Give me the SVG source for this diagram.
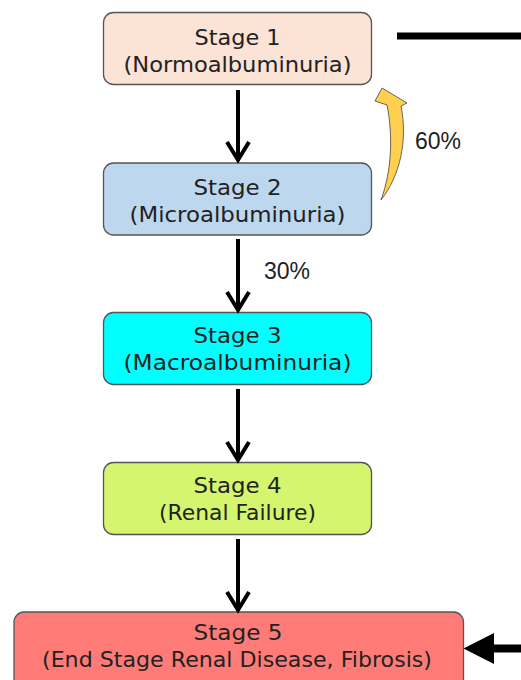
<svg xmlns="http://www.w3.org/2000/svg" width="521" height="680" viewBox="0 0 521 680">
  <style>
    .box { stroke: #555; stroke-width: 1.3; }
    .lbl { font-family: "DejaVu Sans", "Liberation Sans", sans-serif; font-size: 22px; fill: #222; text-anchor: middle; }
    .pct { font-family: "Liberation Sans", Arial, sans-serif; font-size: 23px; fill: #222; }
    .down { fill: none; stroke: #000; stroke-width: 4; stroke-linejoin: miter; }
  </style>
  <rect width="521" height="680" fill="#fff"/>

  <g id="stage1">
    <rect class="box" x="103.5" y="12.5" width="268" height="72" rx="10" fill="#FBE3D6"/>
    <text class="lbl" x="237.5" y="45" textLength="86" lengthAdjust="spacingAndGlyphs">Stage 1</text>
    <text class="lbl" x="237.5" y="72" textLength="228" lengthAdjust="spacingAndGlyphs">(Normoalbuminuria)</text>
  </g>
  <g id="stage2">
    <rect class="box" x="103.5" y="163" width="268" height="72" rx="10" fill="#BDD7EE"/>
    <text class="lbl" x="237.5" y="195" textLength="88" lengthAdjust="spacingAndGlyphs">Stage 2</text>
    <text class="lbl" x="237.5" y="222" textLength="216" lengthAdjust="spacingAndGlyphs">(Microalbuminuria)</text>
  </g>
  <g id="stage3">
    <rect class="box" x="103.5" y="312.5" width="268" height="72" rx="10" fill="#00FFFF"/>
    <text class="lbl" x="237.5" y="343" textLength="88" lengthAdjust="spacingAndGlyphs">Stage 3</text>
    <text class="lbl" x="237.5" y="370" textLength="228" lengthAdjust="spacingAndGlyphs">(Macroalbuminuria)</text>
  </g>
  <g id="stage4">
    <rect class="box" x="103.5" y="462.5" width="268" height="72" rx="10" fill="#D5F56F"/>
    <text class="lbl" x="237.5" y="493" textLength="88" lengthAdjust="spacingAndGlyphs">Stage 4</text>
    <text class="lbl" x="237.5" y="520" textLength="157" lengthAdjust="spacingAndGlyphs">(Renal Failure)</text>
  </g>
  <g id="stage5">
    <rect class="box" x="14" y="612" width="449.5" height="80" rx="10" fill="#FF7B77"/>
    <text class="lbl" x="238" y="640" textLength="89" lengthAdjust="spacingAndGlyphs">Stage 5</text>
    <text class="lbl" x="237" y="667" textLength="390" lengthAdjust="spacingAndGlyphs">(End Stage Renal Disease, Fibrosis)</text>
  </g>

  <g id="connectors">
    <path class="down" d="M238,90 V160 M227,142 L238,160 L249,142"/>
    <path class="down" d="M238,239 V310 M227,292 L238,310 L249,292"/>
    <path class="down" d="M238,389 V460 M227,442 L238,460 L249,442"/>
    <path class="down" d="M238,539 V610 M227,592 L238,610 L249,592"/>
    <path d="M381,200 C400,176 408,140 401,106 L407,103 L382,88 L375,101 L387,105 C393,135 392,170 381,200 Z" fill="#FFD04F" stroke="#444" stroke-width="0.8"/>
    <line x1="397" y1="36" x2="521" y2="36" stroke="#000" stroke-width="7"/>
    <line x1="490" y1="648.5" x2="521" y2="648.5" stroke="#000" stroke-width="8"/>
    <polygon points="463.5,648.5 494,633 494,664" fill="#000"/>
    <text class="pct" x="264" y="279">30%</text>
    <text class="pct" x="415" y="149">60%</text>
  </g>
</svg>
